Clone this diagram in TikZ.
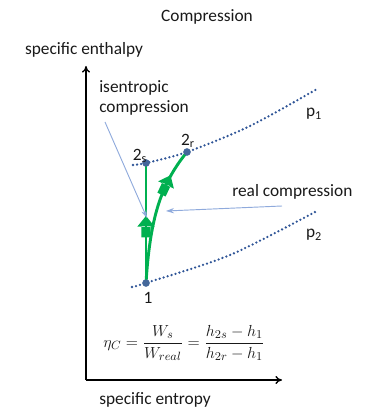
\documentclass[tikz,border=0pt]{standalone}
\usepackage{amsmath}
\usepackage{fontspec}
\setmainfont{Carlito}
\usetikzlibrary{arrows.meta,decorations.markings}
\definecolor{greenC}{HTML}{00B050}
\definecolor{isobarB}{HTML}{2F5597}
\definecolor{dotB}{HTML}{44679A}
\definecolor{lightB}{HTML}{8FAADC}
% block arrow drawn along the path (x = along path)
\newcommand{\blockarrow}{\fill[greenC] (-8pt,-3.4pt) rectangle (0.5pt,3.4pt)
    (0,-6.5pt) -- (8pt,0) -- (0,6.5pt) -- cycle;}

\begin{document}
\begin{tikzpicture}[
    x=0.75pt, y=-0.75pt,
    every node/.style={font=\fontsize{13}{15}\selectfont, text=black!90},
    axis/.style={line width=1pt, -{To[length=5pt,width=6pt]}},
    isoline/.style={isobarB, line width=1.9pt, line cap=round, dash pattern=on 0pt off 3.1pt},
    statept/.style={circle, fill=dotB, minimum size=5.5pt, inner sep=0pt},
    process/.style={greenC, line width=2.2pt, postaction={decorate}},
    pointer/.style={lightB, line width=0.7pt, -{Stealth[length=6pt,width=4pt]}}
]
\useasboundingbox (0,0) rectangle (375,413);
% ---- titles and axes ----
\node (title) at (207,17) {Compression};
\node (ylab) at (84,50) {specific enthalpy};
\node (xlab) at (155,400) {specific entropy};
\coordinate (origin) at (86,380);
\coordinate (ytip) at (86,66);
\coordinate (xtip) at (282,380);
\draw[axis] (origin) -- (ytip);
\draw[axis] (origin) -- (xtip);

% ---- isobars ----
\draw[isoline] plot[smooth] coordinates {(133,165) (146,163) (187,152) (250,126) (317,89)};
\draw[isoline] plot[smooth] coordinates {(132,287) (146,283) (230,255) (315,212)};
\node (p1) at (314,114) {p\textsubscript{1}};
\node (p2) at (314,235) {p\textsubscript{2}};

% ---- state points ----
\node[statept] (s1) at (146,283) {};
\node[statept] (s2s) at (146,163) {};
\node[statept] (s2r) at (187,152) {};

% ---- processes ----
\draw[process, decoration={markings, mark=at position 0.47 with {\blockarrow}}]
    (s1.center) -- (s2s.center);
\draw[process, decoration={markings, mark=at position 0.72 with {\blockarrow}}]
    (s1.center) .. controls (150,220) and (160,185) .. (s2r.center);
\node[statept] at (s1) {};
\node[statept] at (s2s) {};
\node[statept] at (s2r) {};

\node (l1) at (148,298) {1};
\node (l2s) at (140,156) {2\textsubscript{s}};
\node (l2r) at (188,141) {2\textsubscript{r}};

% ---- annotations ----
\node[align=left, anchor=north west, inner sep=0pt] (isen) at (99,80) {isentropic\\compression};
\node[anchor=west, inner sep=0pt] (real) at (232,192) {real compression};
\coordinate (isentip) at (147,218);
\coordinate (realtip) at (166,211);
\draw[pointer] (105,122) -- (isentip);
\draw[pointer] (282,206) -- (realtip);

% ---- efficiency ----
\node (eff) at (184,343) {$\eta_C = \dfrac{W_s}{W_{real}} = \dfrac{h_{2s}-h_1}{h_{2r}-h_1}$};
\end{tikzpicture}
\end{document}
